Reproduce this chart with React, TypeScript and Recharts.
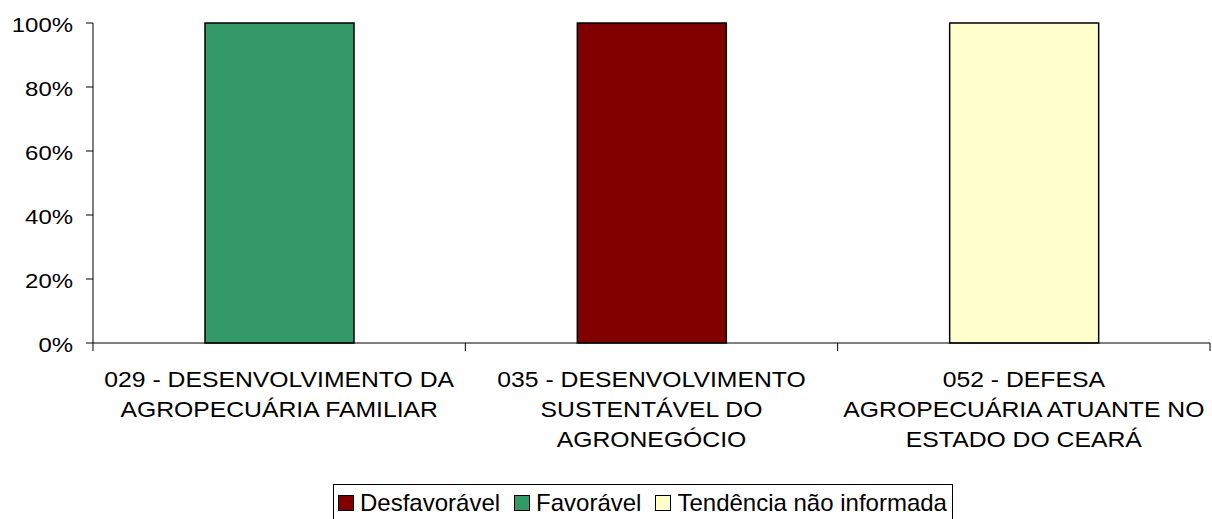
import React from 'react';
import { BarChart, Bar, XAxis, YAxis, Legend } from 'recharts';

const categories = [
  '029 - DESENVOLVIMENTO DA\nAGROPECUÁRIA FAMILIAR',
  '035 - DESENVOLVIMENTO\nSUSTENTÁVEL DO\nAGRONEGÓCIO',
  '052 - DEFESA\nAGROPECUÁRIA ATUANTE NO\nESTADO DO CEARÁ',
];
const desfavoravel = [0, 100, 0];
const favoravel = [100, 0, 0];
const tendenciaNaoInformada = [0, 0, 100];
const yTicks = [0, 20, 40, 60, 80, 100];

const data = categories.map((categoria, i) => ({
  categoria,
  desfavoravel: desfavoravel[i],
  favoravel: favoravel[i],
  tendencia: tendenciaNaoInformada[i],
}));

const font = '"Liberation Sans", Arial, sans-serif';

function PercentTick({ x, y, payload }: any) {
  return (
    <g transform={`translate(${x},${y})`}>
      <text textAnchor="end" transform="scale(1.14,1)" dy={9} fontSize={21} fontFamily={font} fill="#000">
        {payload.value}%
      </text>
    </g>
  );
}

// Excel puts the tick marks between the categories, so draw them at the band edges
function CategoryTick({ x, y, payload, index, visibleTicksCount }: any) {
  const lines = String(payload.value).split('\n');
  const half = payload.offset || 0;
  return (
    <g transform={`translate(${x},${y})`}>
      <line x1={-half} x2={-half} y1={0} y2={8} stroke="#000" />
      {index === visibleTicksCount - 1 && <line x1={half} x2={half} y1={0} y2={8} stroke="#000" />}
      <text textAnchor="middle" transform="scale(1.125,1)" fontSize={22} fontFamily={font} fill="#000">
        {lines.map((line, i) => (
          <tspan key={i} x={0} dy={i === 0 ? 44 : 30}>
            {line}
          </tspan>
        ))}
      </text>
    </g>
  );
}

function LegendBox({ payload }: any) {
  return (
    <div style={{ marginLeft: 333 }}>
      <div
        style={{
          display: 'inline-flex',
          alignItems: 'center',
          boxSizing: 'border-box',
          height: 38,
          border: '1px solid #000',
          padding: '0 5px 0 4px',
          fontFamily: font,
          fontSize: 24,
          lineHeight: '28px',
          color: '#000',
          whiteSpace: 'nowrap',
          background: '#fff',
        }}
      >
        {(payload || []).map((entry: any, i: number) => (
          <span key={i} style={{ display: 'inline-flex', alignItems: 'center', marginRight: i < payload.length - 1 ? 14 : 0 }}>
            <span
              style={{
                display: 'inline-block',
                boxSizing: 'border-box',
                width: 16,
                height: 16,
                background: entry.color,
                border: '1.5px solid #000',
                marginRight: 6,
              }}
            />
            {entry.value}
          </span>
        ))}
      </div>
    </div>
  );
}

export default function App() {
  return (
    <div style={{ position: 'absolute', left: 0, top: 0, width: 1212, height: 519, background: '#fff', overflow: 'hidden' }}>
      <BarChart width={1212} height={519} data={data} margin={{ top: 23, right: 2, left: 0, bottom: 0 }}>
        <XAxis
          dataKey="categoria"
          stroke="#000"
          tickLine={false}
          tickSize={0}
          tickMargin={0}
          height={141}
          interval={0}
          tick={<CategoryTick />}
        />
        <YAxis
          domain={[0, 100]}
          ticks={yTicks}
          width={93}
          tickSize={7}
          tickMargin={13}
          stroke="#000"
          tick={<PercentTick />}
        />
        <Legend verticalAlign="bottom" height={35} content={<LegendBox />} />
        <Bar dataKey="desfavoravel" name="Desfavorável" stackId="a" fill="#800000" stroke="#000" strokeWidth={1.5} barSize={149} isAnimationActive={false} />
        <Bar dataKey="favoravel" name="Favorável" stackId="a" fill="#339966" stroke="#000" strokeWidth={1.5} barSize={149} isAnimationActive={false} />
        <Bar dataKey="tendencia" name="Tendência não informada" stackId="a" fill="#FFFFCC" stroke="#000" strokeWidth={1.5} barSize={149} isAnimationActive={false} />
      </BarChart>
    </div>
  );
}
